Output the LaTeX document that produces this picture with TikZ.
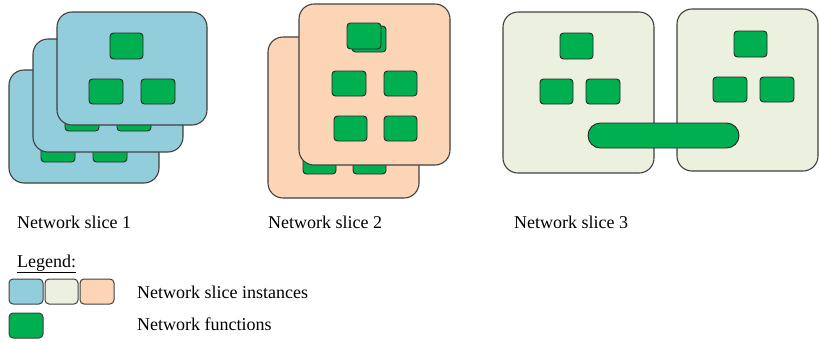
\documentclass[tikz,border=0pt]{standalone}
\usepackage{fontspec}
\setmainfont{Liberation Serif}
\definecolor{sliceblue}{HTML}{92CDDC}
\definecolor{slicepeach}{HTML}{FBD5B5}
\definecolor{slicepale}{HTML}{EBF1DE}
\definecolor{nfgreen}{HTML}{00B050}
\definecolor{cardline}{HTML}{404040}
\definecolor{nfline}{HTML}{262626}
\tikzset{
  card/.style={draw=cardline, line width=1.1pt, rounded corners=15pt},
  nf/.style={draw=nfline, fill=nfgreen, line width=0.9pt, rounded corners=3.5pt},
  legbox/.style={draw=cardline, line width=1pt, rounded corners=4pt},
  lbl/.style={anchor=base west, inner sep=0pt, font=\fontsize{18}{20}\selectfont},
}
\begin{document}
\begin{tikzpicture}[x=1pt,y=-1pt]
\useasboundingbox (0,0) rectangle (819,341);

% ---- Slice 1: three stacked instances, back to front
\foreach \dx/\dy in {9/70, 33/39, 57/12}{
  \begin{scope}[shift={(\dx,\dy)}]
    \draw[card, fill=sliceblue] (0,0) rectangle (150,113);
    \draw[nf] (53,21) rectangle (86,47);
    \draw[nf] (32,67) rectangle (66,92);
    \draw[nf] (84,67) rectangle (118,92);
  \end{scope}
}

% ---- Slice 2: two stacked instances
\foreach \dx/\dy in {268/37, 299/4}{
  \begin{scope}[shift={(\dx,\dy)}]
    \draw[card, fill=slicepeach] (0,0) rectangle (151,161);
    \draw[nf] (53,22) rectangle (87,48);
    \draw[nf] (48,19) rectangle (82,45);
    \draw[nf] (33,67) rectangle (67,92);
    \draw[nf] (85,67) rectangle (118,92);
    \draw[nf] (35,112) rectangle (68,137);
    \draw[nf] (85,112) rectangle (118,137);
  \end{scope}
}

% ---- Slice 3: two instances sharing one function
\draw[card, fill=slicepale] (503,12) rectangle (654,173);
\draw[nf] (560,33) rectangle (593,59);
\draw[nf] (540,79) rectangle (573,104);
\draw[nf] (586,79) rectangle (620,104);

\draw[card, fill=slicepale] (677,9) rectangle (818,171);
\draw[nf] (734,31) rectangle (767,57);
\draw[nf] (713,77) rectangle (747,102);
\draw[nf] (760,77) rectangle (794,102);

\draw[nf, rounded corners=12.5pt] (588,123) rectangle (739,148);

% ---- Captions
\node[lbl] (cap1) at (17,228) {Network slice 1};
\node[lbl] (cap2) at (268,228) {Network slice 2};
\node[lbl] (cap3) at (514,228) {Network slice 3};

% ---- Legend
\node[lbl] (leg) at (17,267) {\underline{Legend:}};
\draw[legbox, fill=sliceblue]  (9,279) rectangle (43,304);
\draw[legbox, fill=slicepale]  (45,279) rectangle (78,304);
\draw[legbox, fill=slicepeach] (80,279) rectangle (114,304);
\draw[legbox, fill=nfgreen]    (9,313) rectangle (43,338);
\node[lbl] (leg1) at (137,298) {Network slice instances};
\node[lbl] (leg2) at (137,330) {Network functions};
\end{tikzpicture}
\end{document}
